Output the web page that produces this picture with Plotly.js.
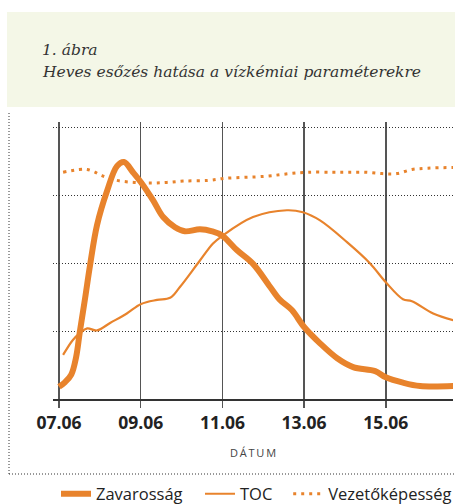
<!DOCTYPE html>
<html>
<head>
<meta charset="utf-8">
<script src="https://cdn.plot.ly/plotly-3.0.1.min.js"></script>
<style>html,body{margin:0;padding:0;background:#fff;}#chart{width:455px;height:504px;}</style>
</head>
<body>
<div id="chart"></div>
<script>
// Days of June (numeric), values in arbitrary units
const turbDays = [7.0, 7.15, 7.30, 7.42, 7.51, 7.64, 7.76, 7.93, 8.18, 8.42, 8.59, 8.81, 9.01, 9.30, 9.55, 9.84, 10.08, 10.45, 10.75, 10.99, 11.36, 11.75, 12.17, 12.41, 12.70, 13.0, 13.39, 13.81, 14.20, 14.74, 15.0, 15.42, 15.84, 16.65];
const turbVals = [0.18, 0.25, 0.36, 0.62, 0.99, 1.49, 1.97, 2.56, 3.07, 3.43, 3.49, 3.34, 3.19, 2.93, 2.68, 2.53, 2.47, 2.50, 2.47, 2.41, 2.19, 1.99, 1.65, 1.46, 1.31, 1.06, 0.82, 0.60, 0.47, 0.41, 0.32, 0.24, 0.19, 0.19];

const tocDays = [7.10, 7.34, 7.51, 7.69, 7.93, 8.25, 8.66, 9.01, 9.40, 9.72, 9.96, 10.45, 10.77, 10.99, 11.75, 12.58, 12.97, 13.39, 14.05, 14.61, 15.0, 15.42, 15.64, 16.16, 16.65];
const tocVals = [0.65, 0.87, 0.97, 1.04, 1.01, 1.12, 1.26, 1.40, 1.46, 1.49, 1.65, 2.04, 2.29, 2.40, 2.68, 2.78, 2.75, 2.63, 2.31, 2.00, 1.72, 1.47, 1.44, 1.26, 1.16];

const condDays = [7.10, 7.49, 7.69, 7.88, 8.05, 8.42, 8.84, 9.28, 9.64, 10.04, 10.65, 11.06, 12.04, 12.65, 13.10, 13.71, 14.08, 14.49, 14.91, 15.27, 15.64, 16.03, 16.65];
const condVals = [3.34, 3.38, 3.38, 3.34, 3.29, 3.22, 3.19, 3.18, 3.19, 3.21, 3.22, 3.25, 3.28, 3.32, 3.34, 3.34, 3.34, 3.34, 3.32, 3.32, 3.38, 3.40, 3.41];

const tickDays = [7, 9, 11, 13, 15];
const tickLabels = ['07.06', '09.06', '11.06', '13.06', '15.06'];
const gridVals = [0, 1, 2, 3, 4];

const seriesNames = ['Zavarosság', 'TOC', 'Vezetőképesség'];
const figLabel = '1. ábra';
const figTitle = 'Heves esőzés hatása a vízkémiai paraméterekre';
const axisTitle = 'D\u2009Á\u2009T\u2009U\u2009M';

const orange = '#e8832c';
const legFont = {size: 16.5, color: '#222', family: 'Open Sans, sans-serif'};

const data = [
  {x: turbDays, y: turbVals, name: seriesNames[0], legend: 'legend', mode: 'lines', line: {color: orange, width: 6, shape: 'spline', smoothing: 1}},
  {x: tocDays, y: tocVals, name: seriesNames[1], legend: 'legend2', mode: 'lines', line: {color: orange, width: 2.2, shape: 'spline', smoothing: 1}},
  {x: condDays, y: condVals, name: seriesNames[2], legend: 'legend3', mode: 'lines', line: {color: orange, width: 3, shape: 'spline', dash: '3px,5px'}}
];

const legBase = {orientation: 'h', xanchor: 'left', y: -0.343, yanchor: 'middle', font: legFont, bgcolor: 'rgba(0,0,0,0)'};

const layout = {
  width: 455, height: 504,
  margin: {l: 53, r: 2, t: 122, b: 105, autoexpand: false},
  paper_bgcolor: '#ffffff', plot_bgcolor: 'rgba(0,0,0,0)',
  font: {family: 'Open Sans, sans-serif', color: '#222'},
  showlegend: true,
  legend: Object.assign({}, legBase, {x: 0.0075}),
  legend2: Object.assign({}, legBase, {x: 0.3675}),
  legend3: Object.assign({}, legBase, {x: 0.588}),
  xaxis: {range: [6.853, 16.645], tickmode: 'array', tickvals: tickDays, ticktext: tickLabels,
          showgrid: true, gridcolor: '#555', gridwidth: 1.5, zeroline: false,
          showline: true, linecolor: '#333', linewidth: 1.5,
          ticks: 'outside', ticklen: 7, tickwidth: 1.5, tickcolor: '#555',
          tickfont: {size: 17.5, weight: 700, color: '#222', family: 'Open Sans, sans-serif'},
          title: {text: axisTitle, standoff: 17, font: {size: 11, color: '#444', family: 'Open Sans, sans-serif'}}},
  yaxis: {range: [0, 4.08], tickmode: 'array', tickvals: gridVals, showticklabels: false,
          showgrid: true, gridcolor: '#333', gridwidth: 1, griddash: '1px,2px', zeroline: false, showline: false, ticks: ''},
  shapes: [
    {type: 'rect', xref: 'paper', yref: 'paper', x0: -0.115, x1: 1.01, y0: 1.054, y1: 1.397, fillcolor: '#f4f7e7', line: {width: 0}, layer: 'below'},
    {type: 'line', xref: 'paper', yref: 'paper', x0: -0.11, x1: -0.11, y0: -0.2708, y1: 1.036, line: {color: '#333', width: 1, dash: '1px,2px'}},
    {type: 'line', xref: 'paper', yref: 'paper', x0: -0.11, x1: 1.005, y0: -0.2708, y1: -0.2708, line: {color: '#333', width: 1, dash: '1px,2px'}}
  ],
  annotations: [
    {xref: 'paper', yref: 'paper', x: -0.0325, y: 1.26, xanchor: 'left', yanchor: 'middle', showarrow: false,
     text: '<i>' + figLabel + '</i>', font: {family: 'DejaVu Serif, serif', size: 15.5, color: '#333'}},
    {xref: 'paper', yref: 'paper', x: -0.0325, y: 1.181, xanchor: 'left', yanchor: 'middle', showarrow: false,
     text: '<i>' + figTitle + '</i>', font: {family: 'DejaVu Serif, serif', size: 15.5, color: '#333'}}
  ]
};

Plotly.newPlot('chart', data, layout, {displayModeBar: false, staticPlot: true});
</script>
</body>
</html>
